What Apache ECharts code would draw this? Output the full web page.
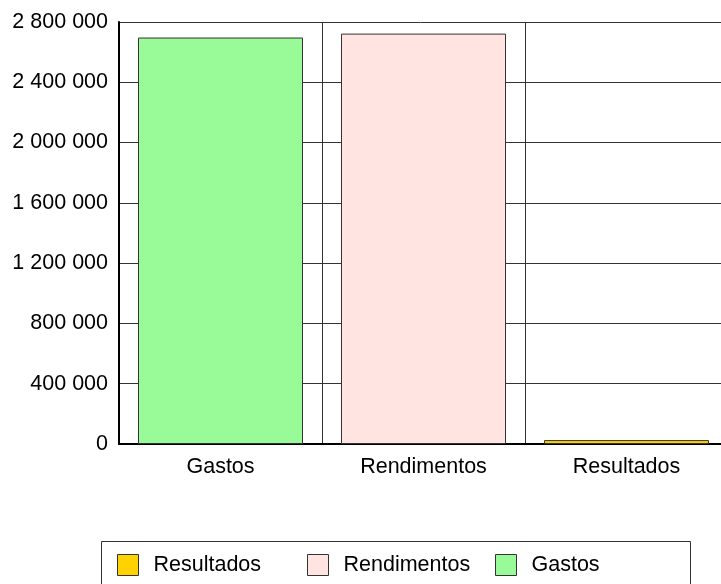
<!DOCTYPE html>
<html>
<head>
<meta charset="utf-8">
<script src="https://cdn.jsdelivr.net/npm/echarts@6/dist/echarts.min.js"></script>
<style>
  html, body { margin: 0; padding: 0; background: #fff; }
  #chart { width: 721px; height: 584px; }
</style>
</head>
<body>
<div id="chart"></div>
<script>
// Budget summary: expenses, income and their balance
var categories = ['Gastos', 'Rendimentos', 'Resultados'];
var gastosValues = [2697000, '-', '-'];
var rendimentosValues = ['-', 2723000, '-'];
var resultadosValues = ['-', '-', 26000];
var yTicks = [0, 400000, 800000, 1200000, 1600000, 2000000, 2400000, 2800000];

var FONT = '"Liberation Sans", Arial, sans-serif';
var FONT_SIZE = 21.5;
var LINE = '#333';

function groupThousands(v) {
  return String(v).replace(/\B(?=(\d{3})+(?!\d))/g, ' ');
}

var chart = echarts.init(document.getElementById('chart'), null, { renderer: 'canvas' });

function barSeries(name, data, color) {
  return {
    name: name,
    type: 'bar',
    data: data,
    barWidth: 165,
    barGap: '-100%',
    itemStyle: { color: color, borderColor: LINE, borderWidth: 1 },
    emphasis: { disabled: true },
    animation: false
  };
}

function legendItem(name, left) {
  return {
    data: [name],
    left: left,
    top: 554,
    padding: 0,
    itemWidth: 21,
    itemHeight: 21,
    icon: 'rect',
    selectedMode: false,
    itemStyle: { borderColor: LINE, borderWidth: 1 },
    textStyle: {
      fontFamily: FONT, fontSize: FONT_SIZE, color: '#000',
      lineHeight: 22, padding: [0, 0, 0, 10]
    }
  };
}

chart.setOption({
  animation: false,
  backgroundColor: '#fff',
  grid: {
    left: 119, top: 22, width: 609, bottom: 140,
    containLabel: false, outerBoundsMode: 'none'
  },
  xAxis: {
    type: 'category',
    data: categories,
    axisLine: { show: true, lineStyle: { color: '#000', width: 2 } },
    axisTick: { show: false },
    splitLine: { show: true, lineStyle: { color: LINE, width: 1 } },
    axisLabel: { fontFamily: FONT, fontSize: FONT_SIZE, color: '#000', margin: 12 }
  },
  yAxis: {
    type: 'value',
    min: yTicks[0],
    max: yTicks[yTicks.length - 1],
    interval: yTicks[1] - yTicks[0],
    axisLine: { show: true, lineStyle: { color: '#000', width: 2 } },
    axisTick: { show: false },
    splitLine: { show: true, lineStyle: { color: LINE, width: 1 } },
    axisLabel: {
      fontFamily: FONT, fontSize: FONT_SIZE, color: '#000', margin: 11,
      formatter: groupThousands
    }
  },
  legend: [
    legendItem('Resultados', 117),
    legendItem('Rendimentos', 307),
    legendItem('Gastos', 495)
  ],
  graphic: [{
    type: 'rect',
    left: 99,
    top: 539,
    shape: { width: 589, height: 70 },
    style: { fill: 'none', stroke: LINE, lineWidth: 1 },
    silent: true,
    z: -1
  }],
  series: [
    barSeries('Gastos', gastosValues, '#98FB98'),
    barSeries('Rendimentos', rendimentosValues, '#FFE4E1'),
    barSeries('Resultados', resultadosValues, '#FFD200')
  ]
});
</script>
</body>
</html>
